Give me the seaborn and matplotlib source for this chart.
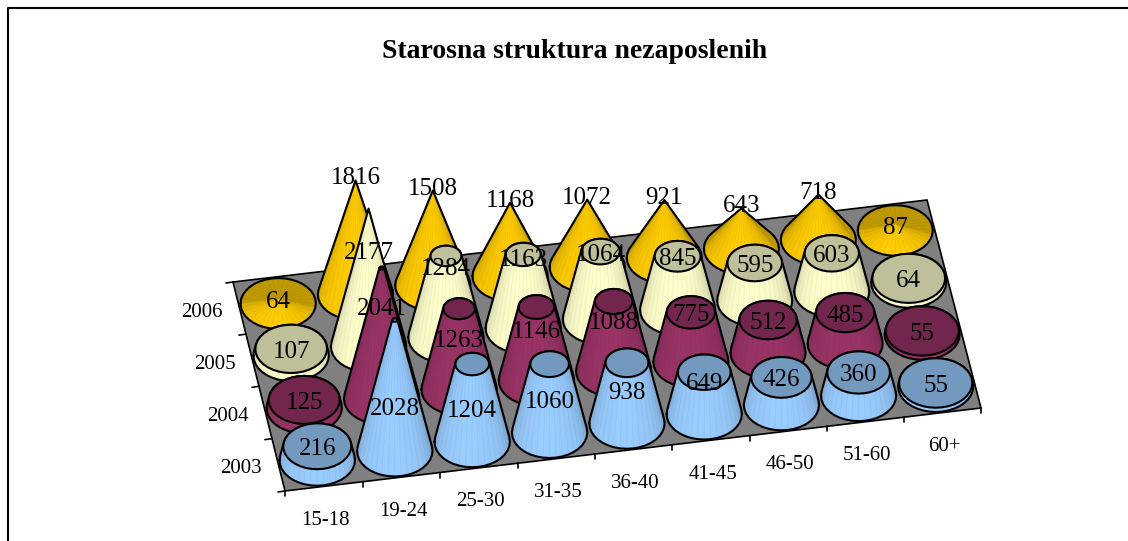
import numpy as np
import matplotlib
matplotlib.use("Agg")
import matplotlib.pyplot as plt
from matplotlib.collections import PolyCollection
from matplotlib.patches import Polygon
import seaborn as sns

# values
age_groups = ["15-18", "19-24", "25-30", "31-35", "36-40", "41-45", "46-50", "51-60", "60+"]
years = ["2003", "2004", "2005", "2006"]
y2003 = [216, 2028, 1204, 1060, 938, 649, 426, 360, 55]
y2004 = [125, 2041, 1263, 1146, 1088, 775, 512, 485, 55]
y2005 = [107, 2177, 1284, 1163, 1064, 845, 595, 603, 64]
y2006 = [64, 1816, 1508, 1168, 1072, 921, 643, 718, 87]
series = [y2003, y2004, y2005, y2006]

sns.set_theme(style="white")
plt.rcParams["font.family"] = ["Liberation Serif", "DejaVu Serif"]
palette = sns.color_palette(["#99CCFF", "#993366", "#FFFFCC", "#FFCC00"])

# floor corners in pixels: front-left, front-right, back-right, back-left
CORNERS = [(285, 491), (981, 408), (927, 200), (233, 282)]
PX_PER_UNIT = 0.0648
RADIUS = 0.48
N_FACETS = 36
TOP_VALUE = max(max(s) for s in series)
# labels of the lower rows stay down the cone, up to this value
LABEL_CAP = [520, 800, 1120, 100000]
TALL_LABEL = [700, 1450, 1530, 1816]


def floor_matrix(corners):
    src = [(0, 0), (len(age_groups), 0), (len(age_groups), len(years)), (0, len(years))]
    a, b = [], []
    for (x, y), (px, py) in zip(src, corners):
        a.append([x, y, 1, 0, 0, 0, -px * x, -px * y])
        a.append([0, 0, 0, x, y, 1, -py * x, -py * y])
        b += [px, py]
    return np.append(np.linalg.solve(np.array(a, float), np.array(b, float)), 1).reshape(3, 3)


H = floor_matrix(CORNERS)


def project(u, v, value=0):
    u, v = np.asarray(u, float), np.asarray(v, float)
    w = H[2, 0] * u + H[2, 1] * v + H[2, 2]
    x = (H[0, 0] * u + H[0, 1] * v + H[0, 2]) / w
    y = (H[1, 0] * u + H[1, 1] * v + H[1, 2]) / w
    # heights shrink a little towards the back
    return x, y - np.asarray(value) * PX_PER_UNIT * (1 - 0.009 * v)


def hull(points):
    pts = sorted(set(map(tuple, np.round(points, 3))))
    def half(seq):
        out = []
        for p in seq:
            while len(out) > 1 and (out[-1][0] - out[-2][0]) * (p[1] - out[-2][1]) - (out[-1][1] - out[-2][1]) * (p[0] - out[-2][0]) <= 0:
                out.pop()
            out.append(p)
        return out[:-1]
    loop = half(pts) + half(pts[::-1])
    return np.array(loop + loop[:1])


def outline(ax, xy, z, lw=1.5):
    sns.lineplot(x=xy[:, 0], y=xy[:, 1], sort=False, estimator=None, color="black",
                 linewidth=lw, zorder=z, legend=False, ax=ax)


def draw_cone(ax, col, row, value, color, pointed, z):
    theta = np.linspace(0, 2 * np.pi, N_FACETS + 1)
    cu, cv = col + 0.5, row + 0.5
    top_r = 0 if pointed else RADIUS * (1 - value / TOP_VALUE)
    bx, by = project(cu + RADIUS * np.cos(theta), cv + RADIUS * np.sin(theta))
    tx, ty = project(cu + top_r * np.cos(theta), cv + top_r * np.sin(theta), value)
    color = np.array(color)

    facets, faces = [], []
    mids = 0.5 * (theta[:-1] + theta[1:])
    for i, th in enumerate(mids):
        facets.append([(bx[i], by[i]), (bx[i + 1], by[i + 1]), (tx[i + 1], ty[i + 1]), (tx[i], ty[i])])
        light = max(0, np.cos(th - np.radians(-105))) ** 0.5
        faces.append(color * (0.75 + 0.25 * light))
    order = np.argsort([np.mean(np.array(f)[:, 1]) for f in facets])
    ax.add_collection(PolyCollection([facets[i] for i in order],
                                     facecolors=[faces[i] for i in order],
                                     edgecolors=[faces[i] * 0.97 for i in order],
                                     linewidths=0.5, zorder=z))
    outline(ax, hull(np.r_[np.c_[bx, by], np.c_[tx, ty]]), z + 0.2)
    if not pointed:
        top = np.c_[tx, ty]
        ax.add_patch(Polygon(top, closed=True, facecolor=color * 0.75, edgecolor="black",
                             linewidth=1.5, zorder=z + 0.3))


fig = plt.figure(figsize=(11.28, 5.41), dpi=100, facecolor="white")
ax = fig.add_axes([0, 0, 1, 1])

# floor
ax.add_patch(Polygon(CORNERS, closed=True, facecolor="#808080", edgecolor="black", linewidth=1.2, zorder=1))

# cones, back row first, right to left
z = 2
for row in range(len(years) - 1, -1, -1):
    for col in range(len(age_groups) - 1, -1, -1):
        draw_cone(ax, col, row, series[row][col], palette[row], row == len(years) - 1, z)
        z += 1

# axis ticks
for col in range(len(age_groups) + 1):
    x, y = project(col, 0)
    outline(ax, np.array([[x, y], [x, y + 5]]), 1.5, lw=1.2)
for row in range(len(years) + 1):
    x, y = project(0, row)
    outline(ax, np.array([[x, y], [x - 7, y + 1]]), 1.5, lw=1.2)

# tick labels
for col, name in enumerate(age_groups):
    x, y = project(col + 0.5, 0)
    ax.text(x + 2, y + 34, name, ha="center", va="center", fontsize=15, color="black", zorder=z)
for row, name in enumerate(years):
    x, y = project(0, row + 0.5)
    ax.text(x - 38, y + 4, name, ha="center", va="center", fontsize=15, color="black", zorder=z)

# data labels
for row, values in enumerate(series):
    for col, value in enumerate(values):
        height = TALL_LABEL[row] if value >= 0.9 * TOP_VALUE else min(value, LABEL_CAP[row])
        x, y = project(col + 0.5, row + 0.5, height)
        y += 3
        if row == len(years) - 1 and value > 100:
            y -= 5
        ax.text(x, y, str(value), ha="center", va="center", fontsize=18, color="black", zorder=z + 1)

ax.text(575, 52, "Starosna struktura nezaposlenih", ha="center", va="center",
        fontsize=20, fontweight="bold", color="black", zorder=z)

# chart frame, only the left and top edges are in the picture
frame = np.array([[8, 541], [8, 8], [1128, 8]])
outline(ax, frame, z, lw=1.5)

ax.set_xlim(0, 1128)
ax.set_ylim(541, 0)
ax.axis("off")
fig.savefig("out.png", dpi=100)
